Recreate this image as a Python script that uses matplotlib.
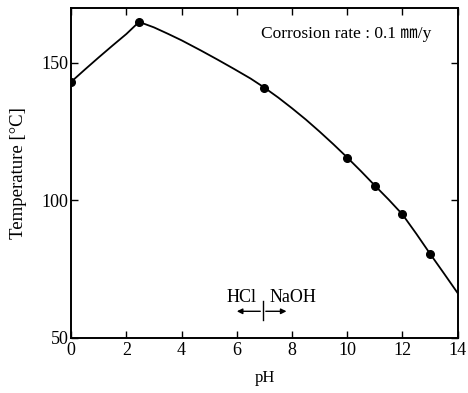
import matplotlib.pyplot as plt

# measured points (corrosion rate 0.1 mm/y)
ph_meas = [0.0, 2.46, 7.0, 10.0, 11.0, 12.0, 13.0]
temp_meas = [143.1, 164.9, 141.0, 115.6, 105.4, 94.9, 80.4]

# smoothed curve drawn through the data
ph_curve = [0.0, 0.5, 1.0, 1.5, 2.0, 2.46, 3.0, 3.5, 4.0, 4.7, 5.3, 5.9, 6.5,
            7.0, 7.5, 8.0, 8.5, 9.0, 9.5, 10.0, 10.5, 11.0, 11.5, 12.0, 12.5,
            13.0, 13.5, 14.0]
temp_curve = [143.1, 147.6, 152.0, 156.3, 160.5, 164.9, 162.9, 160.6, 158.2,
              154.5, 151.2, 147.8, 144.3, 141.0, 137.4, 133.5, 129.4, 125.0,
              120.4, 115.6, 110.6, 105.4, 100.3, 94.9, 87.9, 80.6, 73.5, 66.3]

xticks = [0, 2, 4, 6, 8, 10, 12, 14]
yticks = [50, 100, 150]

plt.rcParams['font.family'] = ['Liberation Serif', 'Noto Sans CJK JP']

fig = plt.figure(figsize=(4.68, 3.93), dpi=100)
ax = fig.add_axes([0.152, 0.14, 0.826, 0.84])

ax.plot(ph_curve, temp_curve, color='black', linewidth=1.3)
ax.plot(ph_meas, temp_meas, 'o', color='black', markersize=5.5)

ax.set_xlim(0, 14)
ax.set_ylim(50, 170)
ax.set_xticks(xticks)
ax.set_yticks(yticks)
ax.tick_params(direction='in', top=True, right=True, length=5, width=1,
               labelsize=13)
ax.tick_params(axis='x', pad=3)
ax.tick_params(axis='y', pad=2)
for s in ax.spines.values():
    s.set_linewidth(1.4)

ax.set_xlabel('pH', fontsize=12, labelpad=8)
ax.set_ylabel('Temperature [°C]', fontsize=13.5, labelpad=10)

ax.text(13.05, 160.5, 'Corrosion rate : 0.1 ㎜/y', fontsize=12.5, ha='right', va='center')

# boundary between HCl and NaOH adjustment
ax.text(6.7, 63.0, 'HCl', fontsize=13, ha='right', va='baseline')
ax.text(7.2, 63.0, 'NaOH', fontsize=13, ha='left', va='baseline')
ax.plot([6.95, 6.95], [56.5, 63.3], color='black', linewidth=1)
ax.annotate('', xy=(5.9, 59.7), xytext=(6.95, 59.7),
            arrowprops=dict(arrowstyle='-|>', color='black', lw=1, mutation_scale=8))
ax.annotate('', xy=(7.9, 59.7), xytext=(6.95, 59.7),
            arrowprops=dict(arrowstyle='-|>', color='black', lw=1, mutation_scale=8))

plt.savefig('out.png', dpi=100)
